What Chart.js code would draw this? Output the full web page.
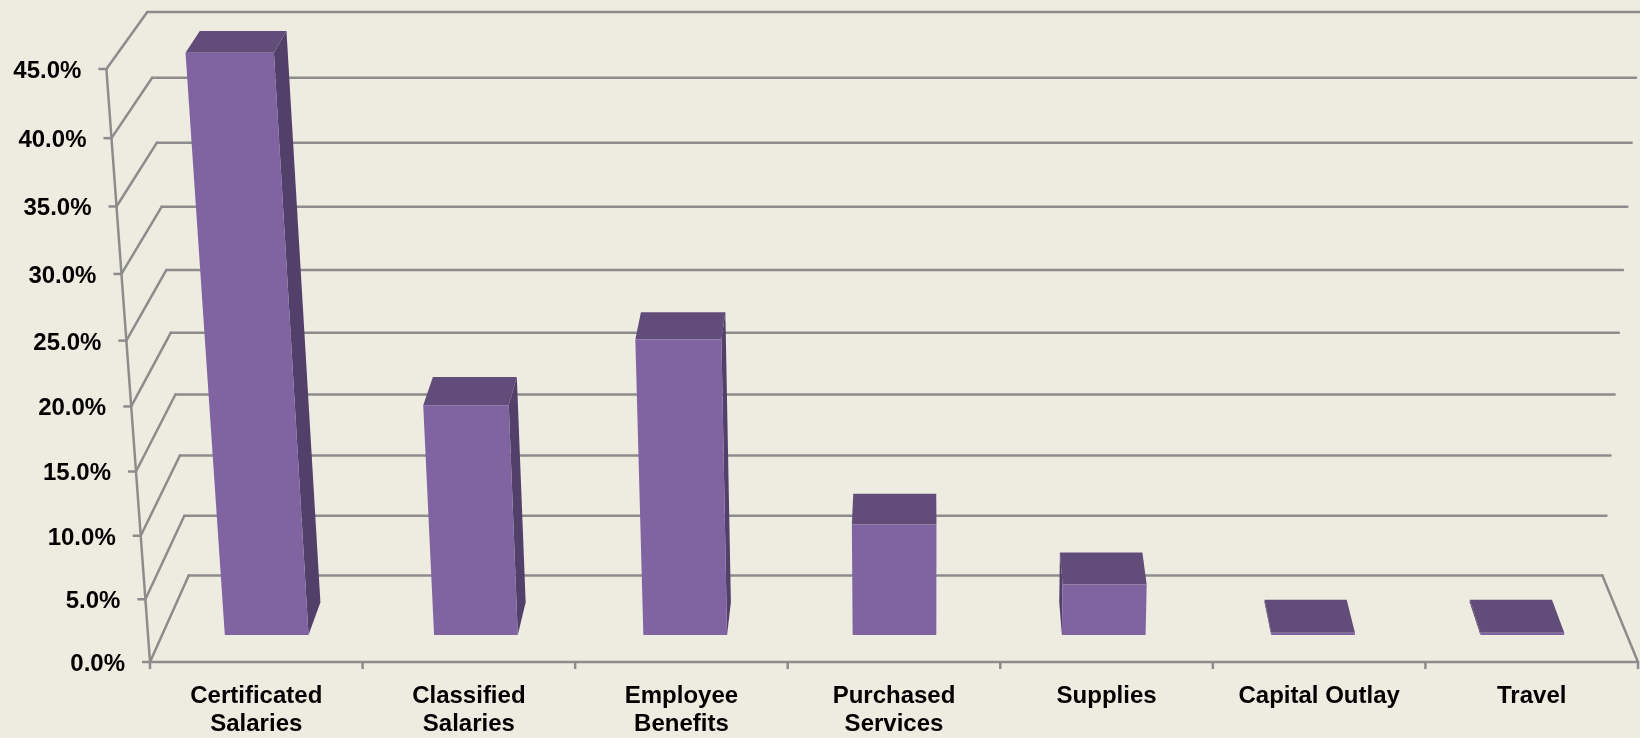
<!DOCTYPE html>
<html>
<head>
<meta charset="utf-8">
<script src="https://cdn.jsdelivr.net/npm/chart.js@4.4.1/dist/chart.umd.min.js"></script>
<style>
  html, body { margin: 0; padding: 0; background: #EEECE1; }
  canvas { display: block; }
</style>
</head>
<body>
<canvas id="myChart" width="1640" height="738"></canvas>
<script>
// categories and their share of the budget (%)
let categories = [
  ["Certificated", "Salaries"],
  ["Classified", "Salaries"],
  ["Employee", "Benefits"],
  ["Purchased", "Services"],
  "Supplies",
  "Capital Outlay",
  "Travel"
];
let shares = [44.9, 18.3, 23.4, 8.9, 4.1, 0.2, 0.2];
let yTicks = [0, 5, 10, 15, 20, 25, 30, 35, 40, 45];

// perspective settings (layout only)
const VX = 925;        // x of both vanishing points
const VZ = -1070;      // y of the depth vanishing point
const VDIST = 10538;   // distance from floor front edge to the vertical vanishing point
const PQ = 0.0563;     // vertical foreshortening of the front plane
const DK = 0.0526;     // depth shrink factor
const BAR_D1 = 0.3, BAR_D2 = 0.68;

function fmt(v) { return v.toFixed(1) + "%"; }

// flat chart pixel (from Chart.js scales) + depth -> screen point
function proj(area, px, py, d) {
  let H = area.bottom - area.top;
  let t = (area.bottom - py) / H;
  let h = t / (1 + PQ * (1 - t));
  let syF = area.bottom - H * h;
  let m = 1 + (area.bottom - syF) / VDIST;
  let sxF = VX + (px - VX) * m;
  let k = 1 / (1 + DK * d);
  return [VX + (sxF - VX) * k, VZ + (syF - VZ) * k];
}

function line(ctx, a, b) {
  ctx.beginPath();
  ctx.moveTo(a[0], a[1]);
  ctx.lineTo(b[0], b[1]);
  ctx.stroke();
}

function poly(ctx, pts, color) {
  ctx.beginPath();
  ctx.moveTo(pts[0][0], pts[0][1]);
  for (let i = 1; i < pts.length; i++) ctx.lineTo(pts[i][0], pts[i][1]);
  ctx.closePath();
  ctx.fillStyle = color;
  ctx.fill();
}

const threeD = {
  id: "threeD",
  beforeDraw(chart) {
    let ctx = chart.ctx;
    ctx.save();
    ctx.fillStyle = "#EEECE1";
    ctx.fillRect(0, 0, chart.width, chart.height);
    ctx.restore();
  },
  afterDatasetsDraw(chart) {
    let ctx = chart.ctx;
    let area = chart.chartArea;
    let x = chart.scales.x;
    let y = chart.scales.y;
    ctx.save();

    // walls: side-wall diagonals and back-wall gridlines
    ctx.strokeStyle = "#8C8C8C";
    ctx.lineWidth = 2.5;
    ctx.lineCap = "round";
    yTicks.forEach(v => {
      let py = y.getPixelForValue(v);
      line(ctx, proj(area, area.left, py, 0), proj(area, area.left, py, 1));
      line(ctx, proj(area, area.left, py, 1), proj(area, area.right, py, 1));
    });
    // floor
    let p0 = y.getPixelForValue(0);
    line(ctx, proj(area, area.left, p0, 0), proj(area, area.right, p0, 0));
    line(ctx, proj(area, area.right, p0, 0), proj(area, area.right, p0, 1));
    // value axis
    line(ctx, proj(area, area.left, p0, 0), proj(area, area.left, y.getPixelForValue(45), 0));

    // ticks + labels on value axis
    ctx.lineCap = "butt";
    ctx.font = "bold 24px 'Liberation Sans', Arial, sans-serif";
    ctx.fillStyle = "#000";
    ctx.textAlign = "right";
    ctx.textBaseline = "alphabetic";
    yTicks.forEach(v => {
      let p = proj(area, area.left, y.getPixelForValue(v), 0);
      line(ctx, [p[0] - 8, p[1]], p);
      ctx.fillText(fmt(v), p[0] - 25, p[1] + 9);
    });

    // category ticks + labels
    let cw = x.getPixelForValue(1) - x.getPixelForValue(0);
    for (let i = 0; i <= categories.length; i++) {
      let p = proj(area, x.getPixelForValue(i) - cw / 2, p0, 0);
      line(ctx, p, [p[0], p[1] + 7]);
    }
    ctx.textAlign = "center";
    categories.forEach((lab, i) => {
      let p = proj(area, x.getPixelForValue(i), p0, 0);
      let lines = Array.isArray(lab) ? lab : [lab];
      lines.forEach((s, j) => ctx.fillText(s, p[0], p[1] + 41 + j * 28));
    });

    // 3D columns
    let meta = chart.getDatasetMeta(0);
    meta.data.forEach(bar => {
      let b = bar.getProps(["x", "y", "base", "width"], true);
      let L = b.x - b.width / 2, R = b.x + b.width / 2;
      let FLB = proj(area, L, b.base, BAR_D1), FRB = proj(area, R, b.base, BAR_D1);
      let FRT = proj(area, R, b.y, BAR_D1), FLT = proj(area, L, b.y, BAR_D1);
      let BLB = proj(area, L, b.base, BAR_D2), BRB = proj(area, R, b.base, BAR_D2);
      let BRT = proj(area, R, b.y, BAR_D2), BLT = proj(area, L, b.y, BAR_D2);
      if (L > VX) poly(ctx, [FLB, BLB, BLT, FLT], "#52406A");
      if (R < VX) poly(ctx, [FRB, BRB, BRT, FRT], "#52406A");
      poly(ctx, [FLT, FRT, BRT, BLT], "#614C7A");
      poly(ctx, [FLB, FRB, FRT, FLT], "#8064A2");
    });

    ctx.restore();
  }
};

let ctx = document.getElementById("myChart").getContext("2d");
let chart = new Chart(ctx, {
  type: "bar",
  data: {
    labels: categories,
    datasets: [
      {
        label: "Share",
        data: shares,
        backgroundColor: "rgba(0,0,0,0)",
        borderWidth: 0,
        categoryPercentage: 0.4,
        barPercentage: 1
      }
    ]
  },
  options: {
    responsive: false,
    animation: false,
    devicePixelRatio: 1,
    layout: { padding: { left: 150, right: 2, top: 69, bottom: 76 } },
    plugins: { legend: { display: false }, tooltip: { enabled: false } },
    scales: {
      x: { display: false, offset: true },
      y: { display: false, min: 0, max: 45, ticks: { stepSize: 5, callback: fmt } }
    }
  },
  plugins: [threeD]
});
</script>
</body>
</html>
